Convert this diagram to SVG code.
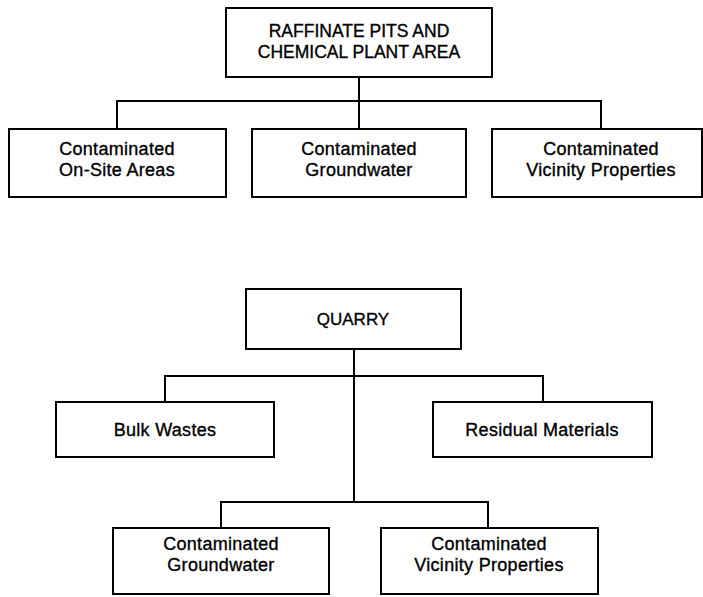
<svg xmlns="http://www.w3.org/2000/svg" width="703" height="597" viewBox="0 0 703 597">
<style>
.box{fill:#fff;stroke:#000;stroke-width:2}
.con{fill:none;stroke:#000;stroke-width:2}
text{font-family:"Liberation Sans",Arial,sans-serif;fill:#000;stroke:#000;stroke-width:0.35;text-anchor:middle}
.h{font-size:17.5px}
.c{font-size:18px;letter-spacing:0.3px}
</style>
<rect width="703" height="597" fill="#fff"/>
<g id="connectors">
<path class="con" d="M359 77V101M117 129V101H601V129M359 101V129"/>
<path class="con" d="M354 349V502M165 402V376H543V402M221 528V502H488V528"/>
</g>
<g id="raffinate">
<rect class="box" x="226" y="8" width="266" height="69"/>
<text class="h" x="359" y="37">RAFFINATE PITS AND</text>
<text class="h" x="359" y="58">CHEMICAL PLANT AREA</text>
</g>
<g id="onsite">
<rect class="box" x="9" y="129" width="217" height="68"/>
<text class="c" x="117" y="155">Contaminated</text>
<text class="c" x="117" y="176">On-Site Areas</text>
</g>
<g id="groundwater1">
<rect class="box" x="252" y="129" width="214" height="68"/>
<text class="c" x="359" y="155">Contaminated</text>
<text class="c" x="359" y="176">Groundwater</text>
</g>
<g id="vicinity1">
<rect class="box" x="492" y="129" width="210" height="68"/>
<text class="c" x="601" y="155">Contaminated</text>
<text class="c" x="601" y="176">Vicinity Properties</text>
</g>
<g id="quarry">
<rect class="box" x="246" y="289" width="215" height="60"/>
<text class="h" x="353" y="325" style="font-size:17px">QUARRY</text>
</g>
<g id="bulk">
<rect class="box" x="56" y="402" width="218" height="55"/>
<text class="c" x="165" y="436">Bulk Wastes</text>
</g>
<g id="residual">
<rect class="box" x="433" y="402" width="219" height="55"/>
<text class="c" x="542" y="436">Residual Materials</text>
</g>
<g id="groundwater2">
<rect class="box" x="113" y="528" width="216" height="66"/>
<text class="c" x="221" y="550">Contaminated</text>
<text class="c" x="221" y="571">Groundwater</text>
</g>
<g id="vicinity2">
<rect class="box" x="381" y="528" width="217" height="66"/>
<text class="c" x="489" y="550">Contaminated</text>
<text class="c" x="489" y="571">Vicinity Properties</text>
</g>
</svg>
